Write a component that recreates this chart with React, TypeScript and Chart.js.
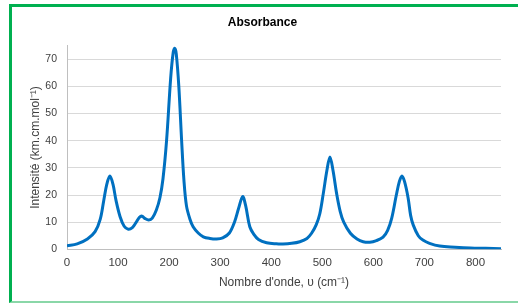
import React, { useEffect, useRef } from "react";
import { Chart, registerables } from "chart.js";

Chart.register(...registerables);

const wavenumbers = [
  0, 20, 40, 55, 65, 72, 78, 84, 90, 96, 104, 112, 120, 128, 135, 142, 147, 153, 160, 167,
  175, 182, 188, 195, 203, 208, 211, 214, 219, 224.5, 229, 234, 241, 247, 257, 267, 280, 293,
  305, 318, 328, 336, 344, 350, 358, 366, 375, 391, 410, 423, 440, 456, 470, 479, 488, 495,
  502, 509, 515, 521, 528, 535, 542, 555, 568, 580, 593, 606, 619, 628, 636, 645, 651, 656,
  661, 668, 673, 678, 688, 697, 710, 730, 760, 790, 820, 850,
];

const intensities = [
  1.3, 2.0, 3.8, 6.5, 11, 18, 24, 27, 24, 18, 12, 8.5, 7.4, 8.0, 9.8, 11.8, 12.2, 11.3, 10.8, 11.5,
  14.5, 19, 26, 40, 63, 72.5, 74, 72, 60, 40, 25.5, 16, 11, 8.3, 6, 4.6, 4, 3.8,
  4.2, 6, 10, 15, 19.4, 16, 8.3, 5.5, 3.6, 2.4, 2, 1.95, 2.2, 2.8, 4, 5.9, 9, 13,
  20.6, 29, 34, 29, 20.6, 14, 10, 5.9, 3.8, 2.8, 2.6, 3.2, 4.5, 7, 11.5, 20, 25, 27,
  25, 19, 12.5, 9, 5, 3.4, 2.2, 1.2, 0.8, 0.5, 0.35, 0.2,
];

const xTicks = [0, 100, 200, 300, 400, 500, 600, 700, 800];
const yTicks = [0, 10, 20, 30, 40, 50, 60, 70];

const chartTitle = "Absorbance";
const xTitle = "Nombre d'onde, υ (cm⁻¹)";
const yTitle = "Intensité (km.cm.mol⁻¹)";

const FONT = "'Liberation Sans', Arial, sans-serif";

export default function App() {
  const canvasRef = useRef<HTMLCanvasElement | null>(null);

  useEffect(() => {
    document.body.style.margin = "0";
    document.body.style.overflow = "hidden";
    const canvas = canvasRef.current;
    if (!canvas) return;
    const points = wavenumbers.map((x, i) => ({ x, y: intensities[i] }));
    const chart = new Chart(canvas, {
      type: "line",
      data: {
        datasets: [
          {
            data: points,
            borderColor: "#0070C0",
            borderWidth: 3,
            pointRadius: 0,
            tension: 0.35,
            fill: false,
          },
        ],
      },
      options: {
        animation: false,
        responsive: false,
        devicePixelRatio: 1,
        layout: { padding: { left: 24, right: 17, top: 5, bottom: 10 } },
        plugins: {
          legend: { display: false },
          tooltip: { enabled: false },
          title: {
            display: true,
            text: chartTitle,
            color: "#000000",
            font: { family: FONT, size: 12, weight: "bold" },
            padding: { top: 10, bottom: 16.3 },
          },
        },
        scales: {
          x: {
            type: "linear",
            min: 0,
            max: 850,
            afterBuildTicks: (axis: any) => {
              axis.ticks = xTicks.map((v) => ({ value: v }));
            },
            afterFit: (s: any) => {
              s.height = 44.7;
            },
            ticks: {
              color: "#404040",
              font: { family: FONT, size: 11.5 },
              padding: 7,
              maxRotation: 0,
              autoSkip: false,
            },
            grid: { display: false, drawTicks: false },
            border: { display: true, color: "#bfbfbf", width: 1 },
            title: {
              display: true,
              text: xTitle,
              color: "#404040",
              font: { family: FONT, size: 12 },
              padding: { top: 4, bottom: 4 },
            },
          },
          y: {
            type: "linear",
            min: 0,
            max: 75,
            afterBuildTicks: (axis: any) => {
              axis.ticks = yTicks.map((v) => ({ value: v }));
            },
            afterFit: (s: any) => {
              s.width = 43;
            },
            ticks: {
              color: "#404040",
              font: { family: FONT, size: 10.5 },
              padding: 10,
              autoSkip: false,
            },
            grid: { color: "#d9d9d9", lineWidth: 1, drawTicks: false },
            border: { display: true, color: "#bfbfbf", width: 1 },
            title: {
              display: true,
              text: yTitle,
              color: "#404040",
              font: { family: FONT, size: 12 },
              padding: { top: 4, bottom: 4 },
            },
          },
        },
      },
    } as any);
    return () => chart.destroy();
  }, []);

  return (
    <div style={{ position: "relative", width: 518, height: 304, overflow: "hidden", background: "#ffffff" }}>
      <canvas ref={canvasRef} width={518} height={304} style={{ position: "absolute", left: 0, top: 0 }} />
      <div
        style={{
          position: "absolute",
          left: 9,
          top: 4,
          width: 509,
          height: 299,
          boxSizing: "border-box",
          borderLeft: "3px solid #00B050",
          borderTop: "3px solid #00B050",
          borderBottom: "2px solid #8ad7a8",
          pointerEvents: "none",
        }}
      />
    </div>
  );
}
